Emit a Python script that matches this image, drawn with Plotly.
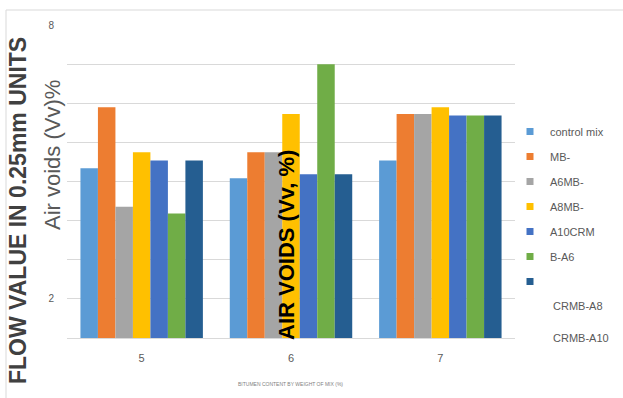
import plotly.graph_objects as go

# Air void contents per mix type at three binder contents
categories = ["5", "6", "7"]
series_names = ["control mix", "MB-A6", "MB-A8", "MB-A10", "CRMB-A6", "CRMB-A8", "CRMB-A10"]
legend_labels = ["control mix", "MB-", "A6MB-", "A8MB-", "A10CRM", "B-A6", ""]
control_mix = [4.86, 4.64, 5.03]
mb_a6 = [6.20, 5.21, 6.05]
mb_a8 = [4.02, 5.21, 6.05]
mb_a10 = [5.21, 6.05, 6.20]
crmb_a6 = [5.03, 4.73, 6.02]
crmb_a8 = [3.87, 7.14, 6.02]
crmb_a10 = [5.03, 4.73, 6.02]
values = [control_mix, mb_a6, mb_a8, mb_a10, crmb_a6, crmb_a8, crmb_a10]
colors = ["#5B9BD5", "#ED7D31", "#A5A5A5", "#FFC000", "#4472C4", "#70AD47", "#255E91"]

# value axis: 8 equal gridline steps from the baseline up to 8, only 2 and 8 labelled
y_min, y_max = 8 / 7, 8.0
step = 6 / 7
tick_vals = [y_min + k * step for k in range(9)]
tick_text = ["", "2", "", "", "", "", "", "", "8"]
extra_labels = ["CRMB-A8", "CRMB-A10"]

W, H = 623, 398
L, R, T, B = 67, 108, 25, 60
pw, ph = W - L - R, H - T - B


def px_x(p):
    return (p - L) / pw


def px_y(p):
    return (H - B - p) / ph


fig = go.Figure()
for name, vals, col in zip(series_names, values, colors):
    fig.add_trace(go.Bar(x=categories, y=vals, name=name, marker_color=col,
                         marker_line_width=0, showlegend=False))

# small square legend keys
for i, (lab, col) in enumerate(zip(legend_labels, colors)):
    fig.add_trace(go.Scatter(x=[None], y=[None], mode="markers", name=lab,
                             legendgroup=f"g{i}",
                             marker=dict(symbol="square", size=7, color=col)))

txt = "#595959"
fig.update_layout(
    width=W, height=H,
    margin=dict(l=L, r=R, t=T, b=B),
    paper_bgcolor="white", plot_bgcolor="white",
    barmode="group", bargap=0.18, bargroupgap=0,
    font=dict(family="Liberation Sans, Arial, sans-serif", color=txt),
    legend=dict(x=px_x(510), y=px_y(117), xanchor="left", yanchor="top",
                font=dict(size=11, color=txt), tracegroupgap=6,
                bgcolor="rgba(0,0,0,0)"),
    xaxis=dict(type="category", showgrid=False, showline=True, linecolor="#d9d9d9",
               linewidth=1, tickfont=dict(size=11, color=txt), ticks="",
               ticklabelstandoff=10),
    yaxis=dict(range=[y_min, y_max], tickvals=tick_vals, ticktext=tick_text,
               showgrid=True, gridcolor="#d9d9d9", gridwidth=1, zeroline=False,
               showline=False, ticks="", tickfont=dict(size=10, color=txt),
               ticklabelstandoff=12),
)

annotations = [
    dict(text="<b>FLOW VALUE IN 0.25mm UNITS</b>", x=px_x(18), y=px_y(211),
         textangle=-90, font=dict(size=23, color="#404040")),
    dict(text="Air voids (Vv)%", x=px_x(52), y=px_y(155),
         textangle=-90, font=dict(size=22, color=txt)),
    dict(text="<b>AIR VOIDS (Vv, %)</b>", x=px_x(286), y=px_y(245),
         textangle=-90, font=dict(size=22, color="black")),
    dict(text="BITUMEN CONTENT BY WEIGHT OF MIX (%)", x=px_x(290), y=px_y(384),
         font=dict(size=5, color="#7f7f7f")),
]
for a in annotations:
    a.update(xanchor="center", yanchor="middle")
for lab, py in zip(extra_labels, [306, 338]):
    annotations.append(dict(text=lab, x=px_x(551), y=px_y(py), xanchor="left",
                            yanchor="middle", font=dict(size=11, color=txt)))
for a in annotations:
    a.update(xref="paper", yref="paper", showarrow=False)
fig.update_layout(annotations=annotations)

# outer chart border
fig.add_shape(type="rect", xref="paper", yref="paper",
              x0=px_x(6), y0=px_y(10), x1=px_x(660), y1=px_y(420),
              line=dict(color="#d9d9d9", width=1), fillcolor="rgba(0,0,0,0)")

fig.write_html("out.html")
